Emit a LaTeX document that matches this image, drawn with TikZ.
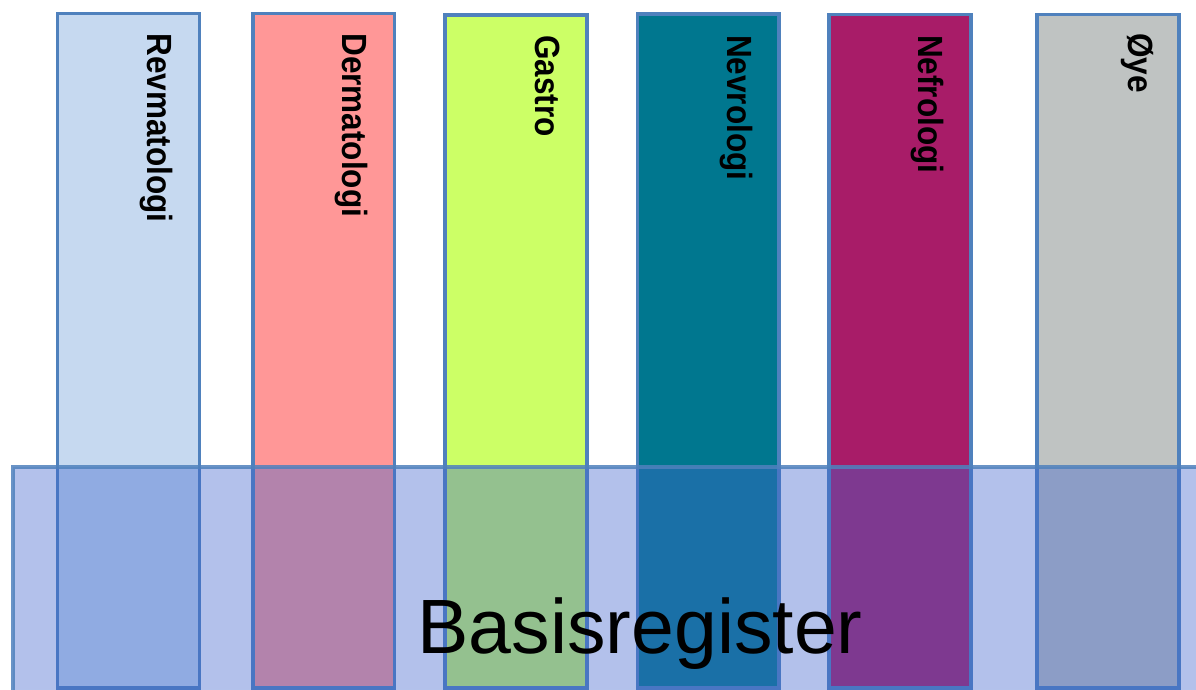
\documentclass[tikz,border=0pt]{standalone}
\usepackage{fontspec}
\setmainfont{Liberation Sans}
\definecolor{bordercol}{HTML}{4F81BD}
\definecolor{revcol}{HTML}{C6D9F0}
\definecolor{dermcol}{HTML}{FF9797}
\definecolor{gastrocol}{HTML}{CCFF66}
\definecolor{nevrocol}{HTML}{00778F}
\definecolor{nefrocol}{HTML}{A81C68}
\definecolor{oyecol}{HTML}{BFC3C2}
\definecolor{basiscol}{HTML}{4166CD}
\tikzset{
  colbox/.style={draw=bordercol, line width=3.5pt},
  basisbox/.style={draw=bordercol, draw opacity=0.85, fill=basiscol, fill opacity=0.4, line width=3.5pt},
  lab/.style={inner sep=0pt, outer sep=0pt, anchor=base west, rotate=-90, text=black,
    font=\fontsize{35pt}{42pt}\selectfont\bfseries},
  basislab/.style={inner sep=0pt, outer sep=0pt, anchor=base, text=black,
    font=\fontsize{77pt}{90pt}\selectfont}
}
\begin{document}
\begin{tikzpicture}[x=1pt,y=-1pt]
\useasboundingbox (0,0) rectangle (1196,689);
\fill[white] (0,0) rectangle (1196,689);
\begin{scope}
\clip (0,0) rectangle (1196,689);
% columns
\draw[colbox, fill=revcol]    (57.5,13.5) rectangle (199.3,688);
\draw[colbox, fill=dermcol]   (253,13.5)  rectangle (394.7,688);
\draw[colbox, fill=gastrocol] (445,15)    rectangle (587,688);
\draw[colbox, fill=nevrocol]  (637.3,14)  rectangle (779,688);
\draw[colbox, fill=nefrocol]  (829,14.3)  rectangle (971,688);
\draw[colbox, fill=oyecol]    (1037,14.3) rectangle (1179,688);
% labels
\node[lab] (l1) at (147,33.3) {\scalebox{0.9}[1]{Revmatologi}};
\node[lab] (l2) at (342,33.3) {\scalebox{0.9}[1]{Dermatologi}};
\node[lab] (l3) at (535,35)   {\scalebox{0.9}[1]{Gastro}};
\node[lab] (l4) at (727,35)   {\scalebox{0.9}[1]{Nevrologi}};
\node[lab] (l5) at (918.5,35) {\scalebox{0.9}[1]{Nefrologi}};
\node[lab] (l6) at (1128,33)  {\scalebox{0.9}[1]{Øye}};
% base register overlay
\draw[basisbox] (13,467) rectangle (1215,710);
\node[basislab] (basis) at (640,653) {Basisregister};
\end{scope}
\end{tikzpicture}
\end{document}
